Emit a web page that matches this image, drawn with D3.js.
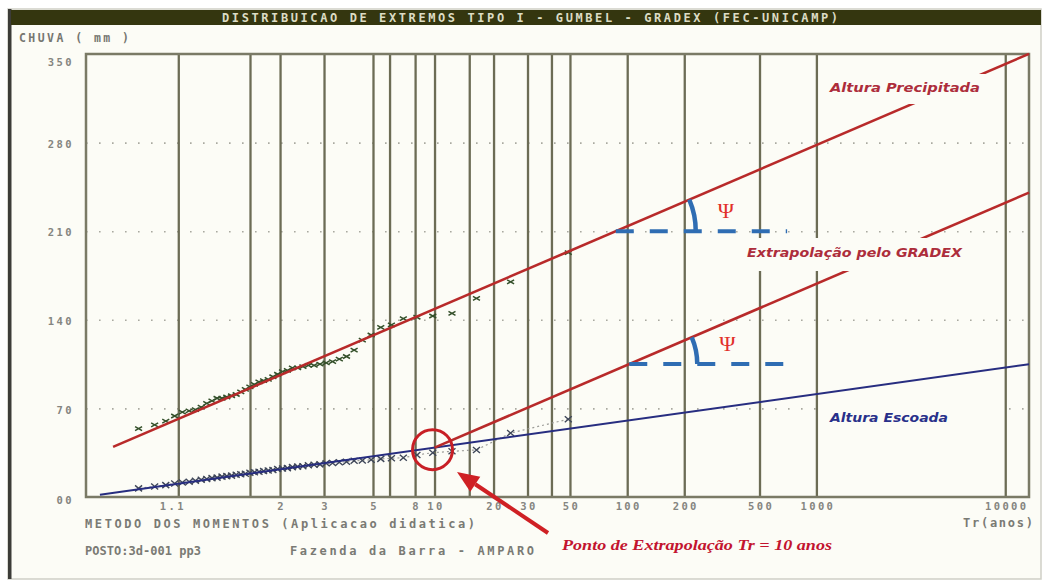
<!DOCTYPE html>
<html>
<head>
<meta charset="utf-8">
<script src="https://cdn.jsdelivr.net/npm/d3@7"></script>
<style>
  html, body { margin: 0; padding: 0; background: #ffffff; }
  svg { display: block; }
</style>
</head>
<body>
<svg id="chart" width="1044" height="582"></svg>
<script>
// ---- Data -------------------------------------------------------------
// Return periods (years) of the vertical rulings on the Gumbel paper
const gridReturnPeriods = [1.1, 1.582, 2, 3, 5, 6, 8, 10, 15, 20, 30, 40, 50, 100, 200, 500, 1000, 10000];
const tickReturnPeriods = [1.1, 2, 3, 5, 8, 10, 20, 30, 50, 100, 200, 500, 1000, 10000];
const tickLabels = ["1.1", "2", "3", "5", "8", "10", "20", "30", "50", "100", "200", "500", "1000", "10000"];

// Rainfall axis (mm)
const rainTicks = [0, 70, 140, 210, 280, 350];
const rainTickLabels = ["00", "70", "140", "210", "280", "350"];
const rainGridLevels = [70, 140, 210, 280];

// Annual maxima (mm), ranked from largest to smallest
const rainfall = [193, 170, 157, 145, 143, 142, 141, 136, 134, 128, 124, 116, 111, 109, 107, 106,
                  105, 104, 104, 103, 102, 102, 100, 99, 97, 95, 93, 92, 91, 89, 87, 85,
                  83, 81, 80, 79, 78, 78, 76, 74, 71, 69, 68, 67, 64, 60, 57, 54];
const runoff = [61.5, 50.5, 37.2, 36.1, 35.0, 33.2, 31.0, 30.6, 30.1, 29.4, 28.9, 28.6, 27.8, 27.5, 26.9, 26.6,
                25.8, 25.5, 25.1, 24.3, 24.0, 23.6, 22.8, 22.5, 22.1, 21.4, 21.0, 20.6, 19.9, 19.5, 19.2, 18.4,
                18.0, 17.6, 16.9, 16.5, 16.1, 15.3, 14.9, 14.2, 13.6, 12.9, 12.1, 11.4, 10.6, 9.4, 8.3, 6.8];

// Gumbel fits (method of moments): value = mode + gradex * reduced variate
const rainfallFit = { mode: 86.0, gradex: 27.8, from: -1.67, to: 9.5 };
const runoffFit   = { mode: 18.5, gradex: 9.1,  from: -1.83, to: 9.5 };
const extrapolationReturnPeriod = 10;    // GRADEX extrapolation starts at Tr = 10 years

// Horizontal references for the angle marks: level (mm) and end return period
const psiMarks = [
  { curve: "rain",   level: 210, endT: 700, radius: 80 },
  { curve: "gradex", level: 105, endT: 750, radius: 68 }
];

// ---- Scales -----------------------------------------------------------
const plot = { left: 86, right: 1029, top: 54, bottom: 497 };
const reduced = T => -Math.log(-Math.log(1 - 1 / T));
const x = d3.scaleLinear().domain([-2, 9.5]).range([plot.left, plot.right]);
const y = d3.scaleLinear().domain([0, 350]).range([plot.bottom, plot.top]);

const svg = d3.select("#chart");
const mono = "'DejaVu Sans Mono', 'Liberation Mono', monospace";

// ---- Panel and title --------------------------------------------------
svg.append("rect").attr("x", 8).attr("y", 9).attr("width", 1033).attr("height", 570)
  .attr("fill", "#fcfcf6").attr("stroke", "#cfcfc6").attr("stroke-width", 1.5);
svg.append("rect").attr("x", 8).attr("y", 9).attr("width", 3.5).attr("height", 570).attr("fill", "#3c3c38");
svg.append("rect").attr("x", 11).attr("y", 10).attr("width", 1030).attr("height", 15).attr("fill", "#34360f");
svg.append("text").attr("x", 530).attr("y", 22).attr("text-anchor", "middle")
  .attr("font-family", mono).attr("font-weight", "bold").attr("font-size", 12)
  .attr("fill", "#dcdcc4").attr("textLength", 616).attr("lengthAdjust", "spacing")
  .text("DISTRIBUICAO DE EXTREMOS TIPO I - GUMBEL - GRADEX (FEC-UNICAMP)");

svg.append("text").attr("x", 19).attr("y", 42)
  .attr("font-family", mono).attr("font-weight", "bold").attr("font-size", 11.5)
  .attr("fill", "#767670").attr("textLength", 110).attr("lengthAdjust", "spacing")
  .text("CHUVA ( mm )");

// ---- Grid -------------------------------------------------------------
const hGrid = svg.append("g").attr("transform", `translate(${plot.left},0)`)
  .call(d3.axisLeft(y).tickValues(rainGridLevels).tickSize(-(plot.right - plot.left)).tickFormat(""));
hGrid.select(".domain").remove();
hGrid.selectAll("line").attr("stroke", "#a9a9a0").attr("stroke-width", 1.6).attr("stroke-dasharray", "1.6,11.4");

const vGrid = svg.append("g").attr("transform", `translate(0,${plot.bottom})`)
  .call(d3.axisBottom(x).tickValues(gridReturnPeriods.map(reduced)).tickSize(-(plot.bottom - plot.top)).tickFormat(""));
vGrid.select(".domain").remove();
vGrid.selectAll("line").attr("stroke", "#6c6c55").attr("stroke-width", 2.3);

svg.append("rect").attr("x", plot.left).attr("y", plot.top)
  .attr("width", plot.right - plot.left).attr("height", plot.bottom - plot.top)
  .attr("fill", "none").attr("stroke", "#7a7a66").attr("stroke-width", 2.5);

// ---- Axes labels ------------------------------------------------------
const xAxis = svg.append("g").attr("transform", `translate(0,${plot.bottom})`)
  .call(d3.axisBottom(x).tickValues(tickReturnPeriods.map(reduced)).tickSize(0).tickPadding(6)
    .tickFormat((d, i) => tickLabels[i]));
xAxis.select(".domain").remove();
xAxis.selectAll("text").attr("font-family", mono).attr("font-weight", "bold").attr("font-size", 10.5)
  .attr("fill", "#858580").attr("letter-spacing", 2.4)
  .attr("dx", (d, i) => i === 0 ? -6 : 1);

const yAxis = svg.append("g").attr("transform", "translate(74,0)")
  .call(d3.axisLeft(y).tickValues(rainTicks).tickSize(0).tickPadding(0)
    .tickFormat((d, i) => rainTickLabels[i]));
yAxis.select(".domain").remove();
yAxis.selectAll("text").attr("font-family", mono).attr("font-weight", "bold").attr("font-size", 10.5)
  .attr("fill", "#858580").attr("letter-spacing", 2.4)
  .attr("dy", d => d === 350 ? "1.05em" : d === 0 ? "0.6em" : "0.45em");

// ---- Observations -----------------------------------------------------
const n = rainfall.length;
const plotPos = (i, len) => reduced((len + 1) / (i + 1));   // Weibull plotting position

const runoffPts = runoff.map((v, i) => [x(plotPos(i, runoff.length)), y(v)]);
svg.append("path").attr("d", d3.line()(runoffPts)).attr("fill", "none")
  .attr("stroke", "#9c9c98").attr("stroke-width", 1.2).attr("stroke-dasharray", "2,3");

function cross(sel, pts, hw, hh, color, sw) {
  sel.selectAll(null).data(pts).join("path")
    .attr("d", d => `M${d[0] - hw},${d[1] - hh}L${d[0] + hw},${d[1] + hh}M${d[0] - hw},${d[1] + hh}L${d[0] + hw},${d[1] - hh}`)
    .attr("stroke", color).attr("stroke-width", sw).attr("fill", "none");
}
cross(svg.append("g"), runoffPts, 3.5, 3, "#3e4658", 1.4);

const rainPts = rainfall.map((v, i) => [x(plotPos(i, n)), y(v)]);
cross(svg.append("g"), rainPts, 3.5, 2, "#34502a", 1.5);

// ---- Fitted lines -----------------------------------------------------
const fitLine = (fit, from, to, base) => {
  const f = u => base ? base.value + fit.gradex * (u - base.u) : fit.mode + fit.gradex * u;
  return d3.line()([[x(from), y(f(from))], [x(to), y(f(to))]]);
};
const uExt = reduced(extrapolationReturnPeriod);
const runoffAtExt = runoffFit.mode + runoffFit.gradex * uExt;

svg.append("path").attr("d", fitLine(runoffFit, runoffFit.from, runoffFit.to))
  .attr("stroke", "#272d80").attr("stroke-width", 2).attr("fill", "none");
svg.append("path").attr("d", fitLine(rainfallFit, rainfallFit.from, rainfallFit.to))
  .attr("stroke", "#b82a2a").attr("stroke-width", 2.6).attr("fill", "none");
svg.append("path").attr("d", fitLine(rainfallFit, uExt, rainfallFit.to, { u: uExt, value: runoffAtExt }))
  .attr("stroke", "#b82a2a").attr("stroke-width", 2.6).attr("fill", "none");

// ---- Curve labels (with a plain backing box) --------------------------
const curveLabels = [
  { text: "Altura Precipitada",       tx: 830, ty: 92,  len: 150, color: "#ad2d3b", box: [825, 74, 165, 30] },
  { text: "Extrapolação pelo GRADEX", tx: 747, ty: 257, len: 215, color: "#ad2d3b", box: [722, 238, 243, 33] },
  { text: "Altura Escoada",           tx: 830, ty: 422, len: 118, color: "#28308a", box: [825, 398, 175, 36] }
];
curveLabels.forEach(l => {
  svg.append("rect").attr("x", l.box[0]).attr("y", l.box[1]).attr("width", l.box[2]).attr("height", l.box[3])
    .attr("fill", "#fcfcf6");
  svg.append("text").attr("x", l.tx).attr("y", l.ty)
    .attr("font-family", "'DejaVu Sans', Verdana, sans-serif").attr("font-style", "italic").attr("font-weight", "bold")
    .attr("font-size", 11.5).attr("fill", l.color).attr("textLength", l.len).attr("lengthAdjust", "spacingAndGlyphs")
    .text(l.text);
});

// ---- Angle marks (Ψ) --------------------------------------------------
const slopePx = Math.atan((y(0) - y(rainfallFit.gradex)) / (x(1) - x(0)));
psiMarks.forEach(m => {
  const u0 = m.curve === "rain"
    ? (m.level - rainfallFit.mode) / rainfallFit.gradex
    : uExt + (m.level - runoffAtExt) / rainfallFit.gradex;
  const vx = x(u0), vy = y(m.level);
  svg.append("line").attr("x1", vx).attr("y1", vy).attr("x2", x(reduced(m.endT))).attr("y2", vy)
    .attr("stroke", "#2f6db3").attr("stroke-width", 4).attr("stroke-dasharray", "18,16");
  const r = m.radius;
  const sx = vx + r * Math.cos(slopePx), sy = vy - r * Math.sin(slopePx);
  svg.append("path").attr("d", `M${sx},${sy}A${r},${r} 0 0 1 ${vx + r},${vy}`)
    .attr("stroke", "#2f6db3").attr("stroke-width", 4.5).attr("fill", "none");
  svg.append("text").attr("x", vx + r + 30).attr("y", vy - 13).attr("text-anchor", "middle")
    .attr("font-family", "'Liberation Serif', 'Times New Roman', serif").attr("font-size", 22)
    .attr("fill", "#e2302a").text("Ψ");
});

// ---- Extrapolation point callout --------------------------------------
const cx = x(uExt), cy = y(runoffAtExt);
svg.append("circle").attr("cx", cx - 2).attr("cy", cy + 2).attr("r", 20)
  .attr("fill", "none").attr("stroke", "#c81f25").attr("stroke-width", 3);

const tail = [548, 533], tip = [457, 472];
const dx = tip[0] - tail[0], dy = tip[1] - tail[1], len = Math.hypot(dx, dy);
const ux = dx / len, uy = dy / len, headL = 22, headW = 9;
const base = [tip[0] - ux * headL, tip[1] - uy * headL];
svg.append("line").attr("x1", tail[0]).attr("y1", tail[1]).attr("x2", base[0]).attr("y2", base[1])
  .attr("stroke", "#cf2024").attr("stroke-width", 4);
svg.append("path")
  .attr("d", `M${tip[0]},${tip[1]}L${base[0] - uy * headW},${base[1] + ux * headW}L${base[0] + uy * headW},${base[1] - ux * headW}Z`)
  .attr("fill", "#cf2024");

svg.append("text").attr("x", 562).attr("y", 550)
  .attr("font-family", "'Liberation Serif', 'Times New Roman', serif").attr("font-style", "italic").attr("font-weight", "bold")
  .attr("font-size", 15).attr("fill", "#c3142f").attr("textLength", 270).attr("lengthAdjust", "spacingAndGlyphs")
  .text("Ponto de Extrapolação  Tr = 10 anos");

// ---- Footer text ------------------------------------------------------
const footer = [
  { text: "METODO DOS MOMENTOS (Aplicacao didatica)", x: 85,  y: 528, len: 390 },
  { text: "POSTO:3d-001 pp3",                         x: 85,  y: 555, len: 116 },
  { text: "Fazenda da Barra - AMPARO",                x: 290, y: 555, len: 244 },
  { text: "Tr(anos)",                                 x: 963, y: 527, len: 70 }
];
footer.forEach(f => {
  svg.append("text").attr("x", f.x).attr("y", f.y)
    .attr("font-family", mono).attr("font-weight", "bold").attr("font-size", 12)
    .attr("fill", "#7a7a74").attr("textLength", f.len).attr("lengthAdjust", "spacing")
    .text(f.text);
});
</script>
</body>
</html>
